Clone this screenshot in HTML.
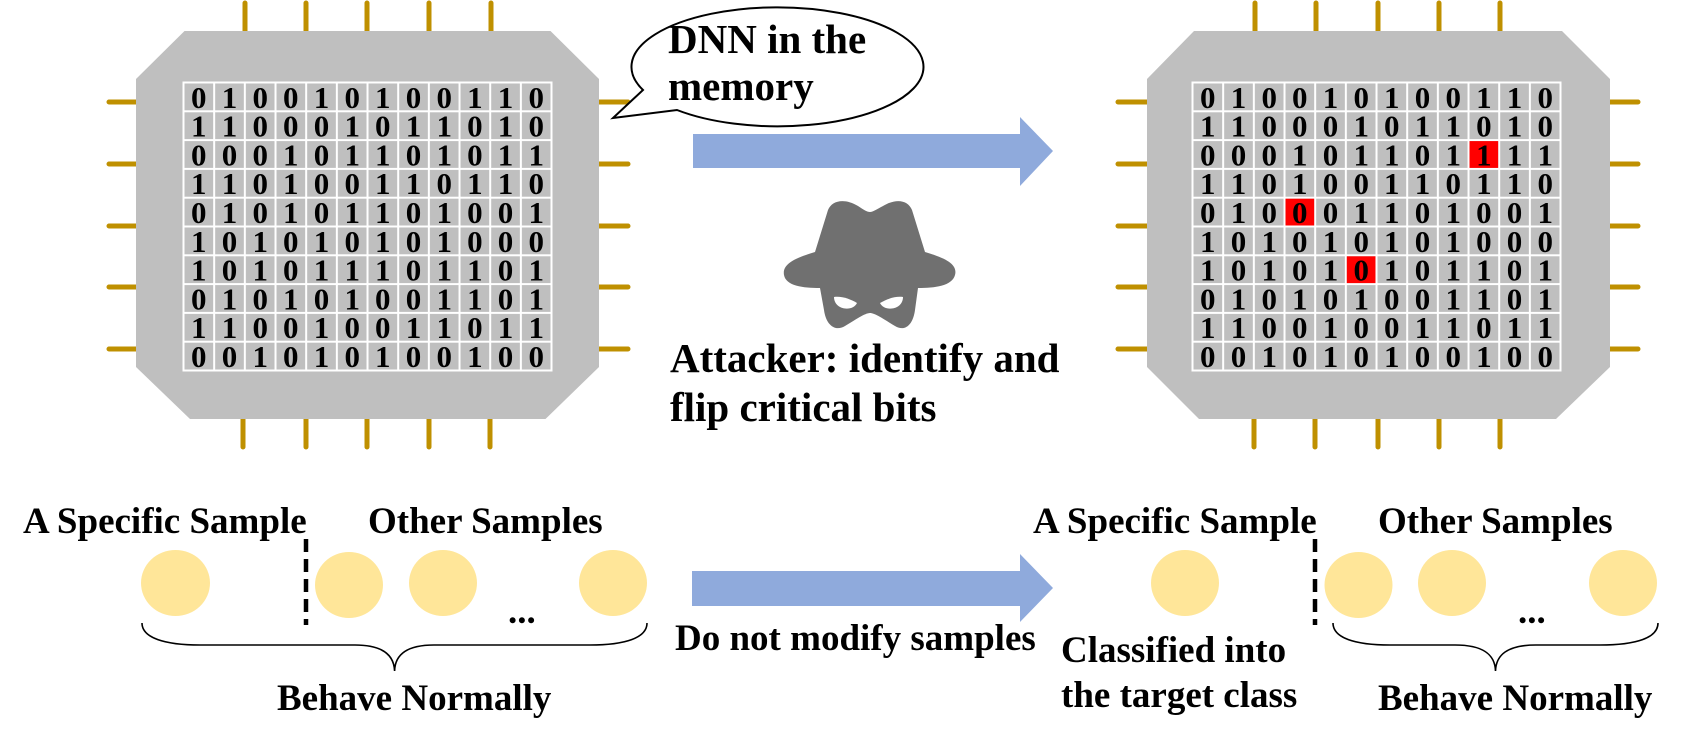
<!DOCTYPE html>
<html><head><meta charset="utf-8"><style>
html,body{margin:0;padding:0;background:#fff;width:1701px;height:743px;overflow:hidden}
svg{display:block}
.d{font-family:"Liberation Serif",serif;font-weight:bold;font-size:31px;fill:#000}
.t{font-family:"Liberation Serif",serif;font-weight:bold;fill:#000}
</style></head><body>
<svg width="1701" height="743" viewBox="0 0 1701 743" xmlns="http://www.w3.org/2000/svg">
<defs>
<pattern id="pl" patternUnits="userSpaceOnUse" x="182.5" y="81.5" width="30.67" height="28.8"><rect x="2" y="2" width="28.67" height="26.8" fill="#bfbfbf"/></pattern>
<pattern id="pr" patternUnits="userSpaceOnUse" x="1191.5" y="81.5" width="30.67" height="28.8"><rect x="2" y="2" width="28.67" height="26.8" fill="#bfbfbf"/></pattern>
</defs>
<g stroke="#bf9000" stroke-width="5" stroke-linecap="round" fill="none">
<path d="M245,3V33M306,3V33M367,3V33M429,3V33M491,3V33M243,416V447M306,416V447M367,416V447M429,416V447M490,416V447M109,102H141M109,164H141M109,226H141M109,287H141M109,349H141M596,102H628M596,164H628M596,226H628M596,287H628M596,349H628"/>
<path d="M1255,3V33M1316,3V33M1378,3V33M1439,3V33M1500,3V33M1254,416V447M1315,416V447M1378,416V447M1439,416V447M1500,416V447M1118,102H1151M1118,164H1151M1118,226H1151M1118,287H1151M1118,349H1151M1605,102H1638M1605,164H1638M1605,226H1638M1605,287H1638M1605,349H1638"/>
</g>
<polygon points="184.5,31 550.5,31 599,79 599,367 545.5,419 190,419 136,367 136,79" fill="#bfbfbf"/>
<polygon points="1194,31 1562,31 1610,79 1610,367 1556,419 1199,419 1147,367 1147,79" fill="#bfbfbf"/>
<rect x="182.5" y="81.5" width="370" height="290" fill="#fff"/>
<rect x="182.5" y="81.5" width="368" height="288" fill="url(#pl)"/>
<rect x="1191.5" y="81.5" width="370" height="290" fill="#fff"/>
<rect x="1191.5" y="81.5" width="368" height="288" fill="url(#pr)"/>
<rect x="1469.5" y="141.1" width="28.67" height="26.8" fill="#f00"/>
<rect x="1285.5" y="198.7" width="28.67" height="26.8" fill="#f00"/>
<rect x="1346.8" y="256.3" width="28.67" height="26.8" fill="#f00"/>
<g class="d" text-anchor="middle">
<text x="198.8 229.5 260.2 290.8 321.5 352.2 382.8 413.5 444.2 474.9 505.5 536.2" y="107.8">010010100110</text>
<text x="198.8 229.5 260.2 290.8 321.5 352.2 382.8 413.5 444.2 474.9 505.5 536.2" y="136.6">110001011010</text>
<text x="198.8 229.5 260.2 290.8 321.5 352.2 382.8 413.5 444.2 474.9 505.5 536.2" y="165.4">000101101011</text>
<text x="198.8 229.5 260.2 290.8 321.5 352.2 382.8 413.5 444.2 474.9 505.5 536.2" y="194.2">110100110110</text>
<text x="198.8 229.5 260.2 290.8 321.5 352.2 382.8 413.5 444.2 474.9 505.5 536.2" y="223">010101101001</text>
<text x="198.8 229.5 260.2 290.8 321.5 352.2 382.8 413.5 444.2 474.9 505.5 536.2" y="251.8">101010101000</text>
<text x="198.8 229.5 260.2 290.8 321.5 352.2 382.8 413.5 444.2 474.9 505.5 536.2" y="280.6">101011101101</text>
<text x="198.8 229.5 260.2 290.8 321.5 352.2 382.8 413.5 444.2 474.9 505.5 536.2" y="309.4">010101001101</text>
<text x="198.8 229.5 260.2 290.8 321.5 352.2 382.8 413.5 444.2 474.9 505.5 536.2" y="338.2">110010011011</text>
<text x="198.8 229.5 260.2 290.8 321.5 352.2 382.8 413.5 444.2 474.9 505.5 536.2" y="367">001010100100</text>
<text x="1207.8 1238.5 1269.2 1299.8 1330.5 1361.2 1391.8 1422.5 1453.2 1483.9 1514.5 1545.2" y="107.8">010010100110</text>
<text x="1207.8 1238.5 1269.2 1299.8 1330.5 1361.2 1391.8 1422.5 1453.2 1483.9 1514.5 1545.2" y="136.6">110001011010</text>
<text x="1207.8 1238.5 1269.2 1299.8 1330.5 1361.2 1391.8 1422.5 1453.2 1483.9 1514.5 1545.2" y="165.4">000101101111</text>
<text x="1207.8 1238.5 1269.2 1299.8 1330.5 1361.2 1391.8 1422.5 1453.2 1483.9 1514.5 1545.2" y="194.2">110100110110</text>
<text x="1207.8 1238.5 1269.2 1299.8 1330.5 1361.2 1391.8 1422.5 1453.2 1483.9 1514.5 1545.2" y="223">010001101001</text>
<text x="1207.8 1238.5 1269.2 1299.8 1330.5 1361.2 1391.8 1422.5 1453.2 1483.9 1514.5 1545.2" y="251.8">101010101000</text>
<text x="1207.8 1238.5 1269.2 1299.8 1330.5 1361.2 1391.8 1422.5 1453.2 1483.9 1514.5 1545.2" y="280.6">101010101101</text>
<text x="1207.8 1238.5 1269.2 1299.8 1330.5 1361.2 1391.8 1422.5 1453.2 1483.9 1514.5 1545.2" y="309.4">010101001101</text>
<text x="1207.8 1238.5 1269.2 1299.8 1330.5 1361.2 1391.8 1422.5 1453.2 1483.9 1514.5 1545.2" y="338.2">110010011011</text>
<text x="1207.8 1238.5 1269.2 1299.8 1330.5 1361.2 1391.8 1422.5 1453.2 1483.9 1514.5 1545.2" y="367">001010100100</text>
</g>
<!-- speech bubble -->
<path d="M643,90 A146,59.5 0 1 1 677,110 L613,118 Z" fill="#fff" stroke="#000" stroke-width="2"/>
<text class="t" font-size="41" x="668" y="53">DNN in the</text>
<text class="t" font-size="41" x="668" y="100">memory</text>
<!-- arrows -->
<polygon points="693,134 1020,134 1020,117 1053,151 1020,186 1020,168 693,168" fill="#8faadc"/>
<polygon points="692,571 1020,571 1020,554 1053,588 1020,622 1020,606 692,606" fill="#8faadc"/>
<!-- attacker -->
<path d="M828,210 C832,200 845,198 858,206 C864,210 867,212 870,212 C873,212 877,209 883,206 C896,198 908,200 912,210 L925,252 C945,258 958,264 955,275 C952,286 935,288 918,288 L915,310 C913,325 905,332 895,326 C885,320 875,313 870,313 C865,313 855,320 845,326 C835,332 826,325 824,310 L820,288 C803,288 786,286 784,275 C782,264 795,258 815,252 Z" fill="#707070"/>
<path d="M834,297 C842,296 850,299 857,303 C854,309 846,310 840,307 C836,305 834,301 834,297 Z" fill="#fff"/>
<path d="M903,297 C895,296 887,299 880,303 C883,309 891,310 897,307 C901,305 903,301 903,297 Z" fill="#fff"/>
<text class="t" font-size="41" x="670" y="372">Attacker: identify and</text>
<text class="t" font-size="41" x="670" y="421">flip critical bits</text>
<!-- bottom left -->
<text class="t" font-size="37" x="23" y="533">A Specific Sample</text>
<text class="t" font-size="37" x="368" y="533">Other Samples</text>
<line x1="306" y1="539" x2="306" y2="625" stroke="#000" stroke-width="4.5" stroke-dasharray="13 7"/>
<g fill="#ffe699">
<ellipse cx="175.5" cy="583" rx="34.5" ry="33"/>
<ellipse cx="349" cy="585" rx="34" ry="33"/>
<ellipse cx="443" cy="583" rx="34" ry="33"/>
<ellipse cx="613" cy="583" rx="34" ry="33"/>
<ellipse cx="1185" cy="583" rx="34" ry="33"/>
<ellipse cx="1358.5" cy="585" rx="34" ry="33"/>
<ellipse cx="1452" cy="583" rx="34" ry="33"/>
<ellipse cx="1623" cy="583" rx="34" ry="33"/>
</g>
<text class="t" font-size="37" x="508" y="623">...</text>
<path d="M142,623 C142,638 165,645 200,645 L355,645 C383,645 394,655 394.6,671 C395,655 406,645 434,645 L590,645 C625,645 647,638 647,623" fill="none" stroke="#000" stroke-width="1.6"/>
<text class="t" font-size="37" x="277" y="710">Behave Normally</text>
<!-- bottom right -->
<text class="t" font-size="37" x="675" y="650">Do not modify samples</text>
<text class="t" font-size="37" x="1033" y="533">A Specific Sample</text>
<text class="t" font-size="37" x="1378" y="533">Other Samples</text>
<line x1="1315" y1="539" x2="1315" y2="625" stroke="#000" stroke-width="4.5" stroke-dasharray="13 7"/>
<text class="t" font-size="37" x="1518" y="623">...</text>
<text class="t" font-size="37" x="1061" y="662">Classified into</text>
<text class="t" font-size="37" x="1061" y="707">the target class</text>
<path d="M1333,623 C1333,638 1355,645 1390,645 L1455,645 C1484,645 1495,655 1495.5,671 C1496,655 1507,645 1536,645 L1600,645 C1636,645 1658,638 1658,623" fill="none" stroke="#000" stroke-width="1.6"/>
<text class="t" font-size="37" x="1378" y="710">Behave Normally</text>
</svg>
</body></html>
